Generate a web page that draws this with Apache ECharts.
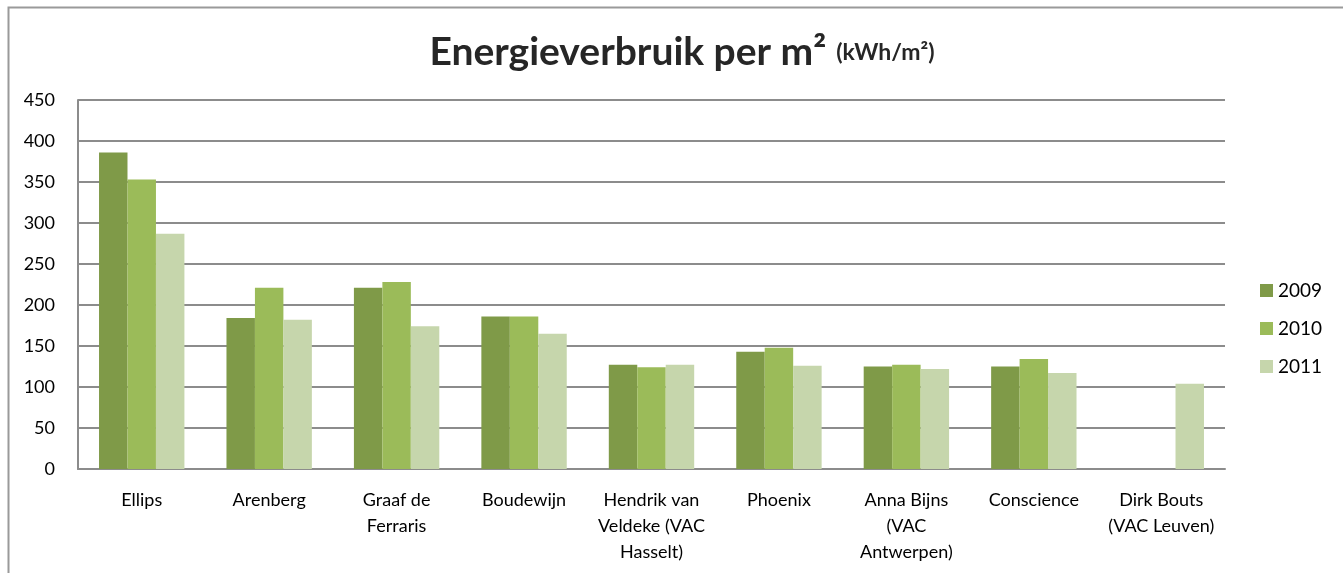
<!DOCTYPE html>
<html>
<head>
<meta charset="utf-8">
<script src="https://cdn.jsdelivr.net/npm/echarts@6/dist/echarts.min.js"></script>
<style>
  html, body { margin: 0; padding: 0; background: #fff; }
  #chart { width: 1343px; height: 573px; }
</style>
</head>
<body>
<div id="chart"></div>
<script>
// ---- data ----
const categories = [
    "Ellips",
    "Arenberg",
    "Graaf de\nFerraris",
    "Boudewijn",
    "Hendrik van\nVeldeke (VAC\nHasselt)",
    "Phoenix",
    "Anna Bijns\n(VAC\nAntwerpen)",
    "Conscience",
    "Dirk Bouts\n(VAC Leuven)"
];
const years = ["2009", "2010", "2011"];
const values2009 = [386, 184, 221, 186, 127, 143, 125, 125, null];
const values2010 = [353, 221, 228, 186, 124, 148, 127, 134, null];
const values2011 = [287, 182, 174, 165, 127, 126, 122, 117, 104];
const yTicks = { min: 0, max: 450, interval: 50 };

const colors = ["#7f9a48", "#9bbb59", "#c6d6ac"];
const FONT = "Lato, 'Open Sans', sans-serif";

const chart = echarts.init(document.getElementById("chart"));

function bar(name, data, color) {
    return {
        name: name,
        type: "bar",
        data: data,
        barGap: "0%",
        barCategoryGap: "33%",
        itemStyle: { color: color },
        emphasis: { disabled: true }
    };
}

chart.setOption({
    animation: false,
    textStyle: { fontFamily: FONT },
    title: {
        text: "{main|Energieverbruik per m²}{unit|(kWh/m²)}",
        left: 677,
        top: 28,
        textAlign: "center",
        textStyle: {
            rich: {
                main: { fontFamily: FONT, fontSize: 39, fontWeight: "bold", color: "#262626" },
                unit: { fontFamily: FONT, fontSize: 23, fontWeight: "bold", color: "#262626", padding: [0, 0, 0, 10] }
            }
        }
    },
    graphic: [{
        type: "rect",
        shape: { x: 8.5, y: 7.5, width: 1400, height: 600 },
        style: { fill: "none", stroke: "#9a9a9a", lineWidth: 2 },
        silent: true
    }],
    legend: {
        orient: "vertical",
        left: 1255,
        top: 276,
        itemWidth: 13,
        itemHeight: 13,
        itemGap: 19,
        icon: "rect",
        data: years,
        textStyle: { fontFamily: FONT, fontSize: 19, color: "#000" }
    },
    grid: { left: 78, right: 118, top: 100, bottom: 104, containLabel: false },
    xAxis: {
        type: "category",
        data: categories,
        axisLine: { lineStyle: { color: "#8c8c8c", width: 2 } },
        axisTick: { show: false },
        axisLabel: {
            interval: 0,
            margin: 18,
            fontFamily: FONT,
            fontSize: 18,
            lineHeight: 26,
            color: "#000"
        }
    },
    yAxis: {
        type: "value",
        min: yTicks.min,
        max: yTicks.max,
        interval: yTicks.interval,
        axisLine: { show: true, lineStyle: { color: "#8c8c8c", width: 2 } },
        axisTick: { show: false },
        splitLine: { lineStyle: { color: "#8c8c8c", width: 2 } },
        axisLabel: {
            margin: 23,
            fontFamily: FONT,
            fontSize: 18,
            color: "#000"
        }
    },
    series: [
        bar(years[0], values2009, colors[0]),
        bar(years[1], values2010, colors[1]),
        bar(years[2], values2011, colors[2])
    ]
});
</script>
</body>
</html>
